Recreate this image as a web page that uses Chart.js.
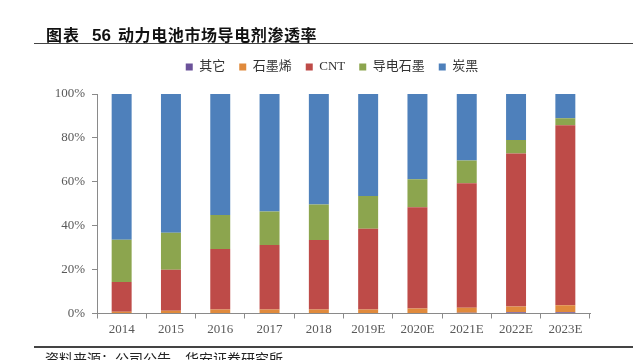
<!DOCTYPE html>
<html>
<head>
<meta charset="utf-8">
<script src="https://cdn.jsdelivr.net/npm/chart.js@4/dist/chart.umd.min.js"></script>
<style>
  html,body{margin:0;padding:0;background:#fff;}
  #wrap{position:relative;width:633px;height:360px;overflow:hidden;background:#fff;}
  #c{position:absolute;left:0;top:0;}
  .t{position:absolute;font-family:"Noto Sans CJK SC","Noto Sans",sans-serif;font-weight:bold;color:#111;white-space:nowrap;line-height:16px;font-size:16px;}
  .line{position:absolute;background:#444;}
  #foot{position:absolute;left:45px;top:351px;font-family:"Noto Sans CJK SC",sans-serif;font-size:14px;color:#222;white-space:nowrap;line-height:14px;}
</style>
</head>
<body>
<div id="wrap">
  <canvas id="c" width="633" height="360"></canvas>
  <div class="t" style="left:46px;top:26px;letter-spacing:1px;">图表</div>
  <div class="t" style="left:92px;top:28px;font-family:'Liberation Sans',Arial,sans-serif;font-size:17px;">56</div>
  <div class="t" style="left:118px;top:26px;letter-spacing:0.6px;">动力电池市场导电剂渗透率</div>
  <div class="line" style="left:34px;top:42.5px;width:599px;height:1.5px;"></div>
  <div class="line" style="left:34px;top:346px;width:599px;height:1.5px;"></div>
  <div id="foot">资料来源：公司公告，华安证券研究所</div>
</div>
<script>
const categories = ['2014','2015','2016','2017','2018','2019E','2020E','2021E','2022E','2023E'];
const otherVals    = [0, 0, 0, 0, 0, 0, 0, 0.3, 0.6, 0.6];
const grapheneVals = [0.8, 1.2, 1.8, 1.8, 1.8, 1.8, 2.3, 2.3, 2.6, 3.2];
const cntVals      = [13.6, 18.7, 27.6, 29.4, 31.7, 36.8, 46.1, 56.7, 69.7, 82.0];
const graphiteVals = [19.2, 16.9, 15.5, 15.3, 16.2, 14.9, 12.8, 10.4, 6.1, 3.1];
const carbonBlackVals = [66.4, 63.2, 55.1, 53.5, 50.3, 46.5, 38.8, 30.3, 21.0, 11.1];
const seriesNames = ['其它','石墨烯','CNT','导电石墨','炭黑'];
const yTicks = [0, 20, 40, 60, 80, 100];

const colors = ['#6B529A','#E08A3C','#BE4B48','#8CA54E','#4E80BB'];
const seriesVals = [otherVals, grapheneVals, cntVals, graphiteVals, carbonBlackVals];

const tickFont = {family:"'Liberation Serif','Times New Roman',serif", size:13};
const axisColor = '#8a8a8a';

const legendShift = {
  id: 'legendShift',
  afterLayout(chart) {
    const l = chart.legend;
    if (!l) return;
    l.top -= 10.5; l.bottom -= 10.5;
    l.left += 12; l.right += 12;
  }
};

new Chart(document.getElementById('c'), {
  type: 'bar',
  data: {
    labels: categories,
    datasets: seriesNames.map((n, i) => ({
      label: n,
      data: seriesVals[i],
      backgroundColor: colors[i],
      borderWidth: 0,
      categoryPercentage: 1,
      barPercentage: 0.405
    }))
  },
  options: {
    responsive: false,
    animation: false,
    devicePixelRatio: 1,
    layout: {padding: {left: 50, right: 43, top: 40, bottom: 0}},
    plugins: {
      tooltip: {enabled: false},
      legend: {
        position: 'top',
        labels: {
          boxWidth: 7, boxHeight: 7, padding: 14,
          color: '#333',
          font: {family:"'Liberation Serif','Noto Sans CJK SC',serif", size: 13}
        }
      }
    },
    scales: {
      x: {
        stacked: true,
        grid: {display: true, drawOnChartArea: false, drawTicks: true, tickLength: 5, color: axisColor, offset: true},
        border: {display: true, color: axisColor, width: 1},
        ticks: {color: '#595959', font: tickFont, padding: 3, maxRotation: 0, autoSkip: false},
        afterFit: s => { s.height = 46.5; }
      },
      y: {
        stacked: true,
        min: 0, max: 100,
        grid: {display: true, drawOnChartArea: false, drawTicks: true, tickLength: 5, color: axisColor},
        border: {display: true, color: axisColor, width: 1},
        afterBuildTicks: s => { s.ticks = yTicks.map(v => ({value: v})); },
        ticks: {color: '#595959', font: tickFont, padding: 7, callback: v => v + '%'},
        afterFit: s => { s.width = 47; s.paddingTop = 94; }
      }
    }
  },
  plugins: [legendShift]
});
</script>
</body>
</html>
